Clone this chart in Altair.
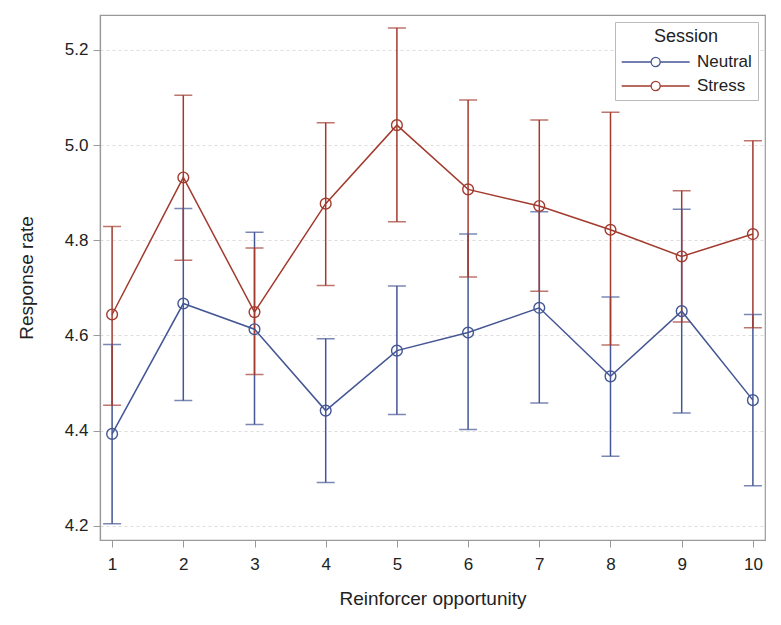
import altair as alt
import pandas as pd

opportunity = [1, 2, 3, 4, 5, 6, 7, 8, 9, 10]
neutral_mean = [4.393, 4.667, 4.613, 4.442, 4.568, 4.606, 4.658, 4.514, 4.651, 4.464]
neutral_lo = [4.204, 4.463, 4.413, 4.291, 4.434, 4.402, 4.458, 4.346, 4.437, 4.284]
neutral_hi = [4.581, 4.867, 4.817, 4.593, 4.704, 4.813, 4.860, 4.681, 4.865, 4.644]
stress_mean = [4.644, 4.932, 4.649, 4.877, 5.042, 4.907, 4.872, 4.822, 4.766, 4.813]
stress_lo = [4.453, 4.758, 4.518, 4.705, 4.839, 4.723, 4.693, 4.580, 4.628, 4.616]
stress_hi = [4.829, 5.105, 4.784, 5.047, 5.246, 5.095, 5.053, 5.069, 4.904, 5.009]

sessions = ["Neutral", "Stress"]
colors = ["#445694", "#A23A2E"]

rows = []
for s, m, lo, hi in [("Neutral", neutral_mean, neutral_lo, neutral_hi),
                     ("Stress", stress_mean, stress_lo, stress_hi)]:
    for i, x in enumerate(opportunity):
        rows.append({"x": x, "Session": s, "mean": m[i], "lo": lo[i], "hi": hi[i]})
df = pd.DataFrame(rows)

FONT = "Liberation Sans"

xs = alt.Scale(domain=[0.83, 10.17], nice=False, zero=False)
ys = alt.Scale(domain=[4.17, 5.2735], nice=False, zero=False)
cs = alt.Scale(domain=sessions, range=colors)

X = alt.X("x:Q", scale=xs, title="Reinforcer opportunity",
          axis=alt.Axis(values=opportunity, format="d", grid=False, tickSize=7,
                        labelPadding=9, titlePadding=17))
Y = alt.Y("mean:Q", scale=ys, title="Response rate",
          axis=alt.Axis(values=[4.2, 4.4, 4.6, 4.8, 5.0, 5.2], format=".1f",
                        grid=True, gridDash=[3, 3], gridColor="#dddddd",
                        tickSize=7, labelPadding=5, titlePadding=28))

legend_path = "M-1,0L1.6,0M2.4,0L5,0M2.4,0A0.4,0.4 0 1,1 1.6,0A0.4,0.4 0 1,1 2.4,0"

color = alt.Color("Session:N", scale=cs,
                  legend=alt.Legend(orient="none", legendX=515, legendY=7,
                                    symbolType=legend_path, symbolSize=514,
                                    symbolStrokeWidth=1.3, symbolFillColor="white",
                                    symbolOpacity=1,
                                    labelOffset=52, padding=6,
                                    strokeColor="#bbbbbb", fillColor="white",
                                    titleAnchor="middle", titleAlign="center",
                                    titleFontSize=18, labelFontSize=17,
                                    titleFontWeight="normal", rowPadding=4,
                                    titlePadding=4))
cap_stroke = alt.Stroke("Session:N", scale=cs, legend=None)

base = alt.Chart(df)

rules = base.mark_rule(strokeWidth=1.5).encode(
    x=X, y=alt.Y("lo:Q", scale=ys), y2="hi:Q", color=color)
caps_lo = base.mark_tick(orient="horizontal", size=18, thickness=0, filled=False,
                         strokeWidth=1.5).encode(
    x=alt.X("x:Q", scale=xs), y=alt.Y("lo:Q", scale=ys), stroke=cap_stroke)
caps_hi = base.mark_tick(orient="horizontal", size=18, thickness=0, filled=False,
                         strokeWidth=1.5).encode(
    x=alt.X("x:Q", scale=xs), y=alt.Y("hi:Q", scale=ys), stroke=cap_stroke)
lines = base.mark_line(strokeWidth=1.5).encode(x=X, y=Y, color=color)
points = base.mark_point(filled=False, size=115, strokeWidth=1.4, opacity=1, shape="circle").encode(
    x=alt.X("x:Q", scale=xs), y=alt.Y("mean:Q", scale=ys), color=color)

chart = alt.layer(rules, caps_lo, caps_hi, lines, points).properties(
    width=665, height=525,
    autosize=alt.AutoSizeParams(type="none"),
    padding={"left": 92, "top": 7, "right": 8, "bottom": 80},
    background="white",
).configure_view(stroke="#999999", strokeWidth=1.2).configure_axis(
    labelFont=FONT, titleFont=FONT, labelFontSize=17, titleFontSize=19,
    labelColor="#222222", titleColor="#222222", titleFontWeight="normal",
    domainColor="#999999", tickColor="#999999", domainWidth=1.2,
).configure_legend(labelFont=FONT, titleFont=FONT, labelColor="#222222", titleColor="#222222")

chart.save("out.html", embed_options={"renderer": "svg", "actions": False})
